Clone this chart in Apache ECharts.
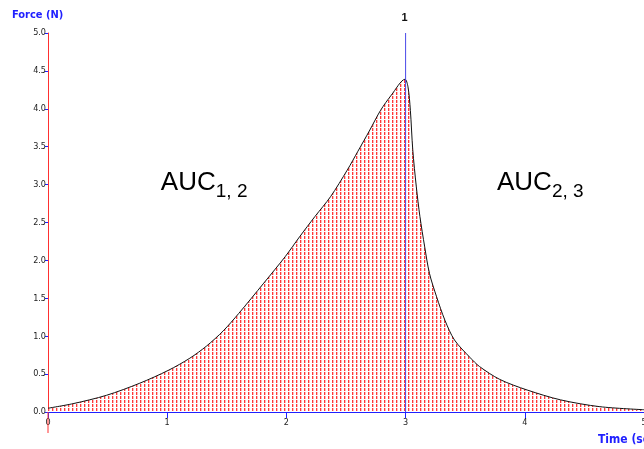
<!DOCTYPE html>
<html>
<head>
<meta charset="utf-8">
<script src="https://cdn.jsdelivr.net/npm/echarts@6/dist/echarts.min.js"></script>
<style>
  html, body { margin: 0; padding: 0; background: #fff; overflow: hidden; }
  #chart { width: 644px; height: 449px; }
</style>
</head>
<body>
<div id="chart"></div>
<script>
// Force recorded over time (seconds), peak at t = 3 s
const timeSec = [0, 0.21, 0.49, 0.77, 1.01, 1.19, 1.33, 1.47, 1.60, 1.81, 1.99, 2.11, 2.24, 2.37, 2.51, 2.60, 2.70, 2.79, 2.88, 2.995,
                 3.02, 3.04, 3.06, 3.09, 3.12, 3.16, 3.20, 3.26, 3.33, 3.41, 3.54, 3.62, 3.79, 4.02, 4.30, 4.63, 5.0];
const force   = [0.05, 0.11, 0.22, 0.38, 0.55, 0.71, 0.87, 1.07, 1.30, 1.70, 2.05, 2.31, 2.58, 2.84, 3.19, 3.44, 3.72, 3.98, 4.18, 4.39,
                 4.29, 3.98, 3.46, 2.97, 2.58, 2.18, 1.83, 1.52, 1.21, 0.95, 0.72, 0.60, 0.43, 0.29, 0.16, 0.07, 0.03];
// Event marker: vertical cursor at the peak, spanning the full force range
const markerTime = [3, 3];
const markerForce = [0, 5];
const markerLabel = '1';
const regionLabels = [
  { main: 'AUC', sub: '1, 2' },
  { main: 'AUC', sub: '2, 3' }
];
const yAxisTitle = 'Force (N)';
const xAxisTitle = 'Time (sec)';

const BLUE = '#2020ff';
const RED = '#ff3030';
const MARKER = '#4848e8';
const NARROW = '"DejaVu Sans Condensed", "Liberation Sans Narrow", Arial, sans-serif';

// Red dashed vertical hatching for the area under the curve
function hatchPattern() {
  const c = document.createElement('canvas');
  c.width = 4; c.height = 4;
  const g = c.getContext('2d');
  g.fillStyle = '#ffffff';
  g.fillRect(0, 0, 4, 4);
  g.fillStyle = '#ff3838';
  g.fillRect(0, 0, 1, 3);
  g.fillStyle = '#ffbcbc';
  g.fillRect(1, 0, 1, 3);
  return c;
}

const chart = echarts.init(document.getElementById('chart'), null, { renderer: 'canvas' });

const points = timeSec.map((t, i) => [t, force[i]]);
const markerPoints = markerTime.map((t, i) => [t, markerForce[i]]);

chart.setOption({
  animation: false,
  backgroundColor: '#ffffff',
  grid: { left: 48, right: 0, top: 33, bottom: 37, containLabel: false, outerBoundsMode: 'none' },
  xAxis: {
    type: 'value', min: 0, max: 5, interval: 1,
    axisLine: { show: true, onZero: false, lineStyle: { color: BLUE, width: 1 } },
    axisTick: { show: true, length: 6, lineStyle: { color: BLUE } },
    axisLabel: { color: '#222', fontSize: 9, fontFamily: NARROW, margin: 6 },
    splitLine: { show: false }
  },
  yAxis: {
    type: 'value', min: 0, max: 5, interval: 0.5,
    axisLine: { show: true, lineStyle: { color: RED, width: 1 } },
    axisTick: { show: true, length: 3, lineStyle: { color: BLUE } },
    axisLabel: { color: '#222', fontSize: 9, fontFamily: NARROW, margin: 2,
                 formatter: v => v.toFixed(1) },
    splitLine: { show: false }
  },
  series: [{
    type: 'line',
    data: points,
    symbol: 'none',
    smooth: 0.3,
    lineStyle: { color: '#111', width: 1 },
    areaStyle: { color: { image: hatchPattern(), repeat: 'repeat' }, opacity: 1 },
    z: 2
  }, {
    type: 'line',
    data: markerPoints,
    symbol: 'none',
    color: MARKER,
    lineStyle: { color: MARKER, width: 1 },
    z: 6,
    endLabel: {
      show: true, formatter: markerLabel, color: '#111', fontSize: 11, fontWeight: 'bold',
      fontFamily: 'Arial, sans-serif', align: 'center', verticalAlign: 'bottom', offset: [-9, -10]
    }
  }]
});

// Overlay: axis titles, region annotations, y-axis extension below the x-axis
const origin = chart.convertToPixel({ gridIndex: 0 }, [0, 0]);
const leftCenter = chart.convertToPixel({ gridIndex: 0 }, [1.31, 3.02]);
const rightCenter = chart.convertToPixel({ gridIndex: 0 }, [4.13, 3.02]);

function aucText(lbl, pos) {
  return {
    type: 'text', x: pos[0], y: pos[1], z: 10,
    style: {
      text: '{m|' + lbl.main + '}{s|' + lbl.sub + '}',
      align: 'center', verticalAlign: 'middle',
      rich: {
        m: { fontSize: 26, fontFamily: '"Liberation Sans", Arial, sans-serif', fill: '#000', verticalAlign: 'bottom' },
        s: { fontSize: 19, fontFamily: '"Liberation Sans", Arial, sans-serif', fill: '#000', verticalAlign: 'bottom', padding: [0, 0, -5, 0] }
      }
    }
  };
}

chart.setOption({
  graphic: [
    { type: 'line', z: 5, shape: { x1: origin[0], y1: origin[1], x2: origin[0], y2: origin[1] + 21 },
      style: { stroke: RED, lineWidth: 1 } },
    { type: 'text', left: 12, top: 10, z: 10,
      style: { text: yAxisTitle, fill: BLUE, fontSize: 11, fontWeight: 'bold', fontFamily: NARROW } },
    { type: 'text', x: 598, y: 434, z: 10,
      style: { text: xAxisTitle, fill: BLUE, fontSize: 12, fontWeight: 'bold', fontFamily: NARROW } },
    aucText(regionLabels[0], leftCenter),
    aucText(regionLabels[1], rightCenter)
  ]
});
</script>
</body>
</html>
